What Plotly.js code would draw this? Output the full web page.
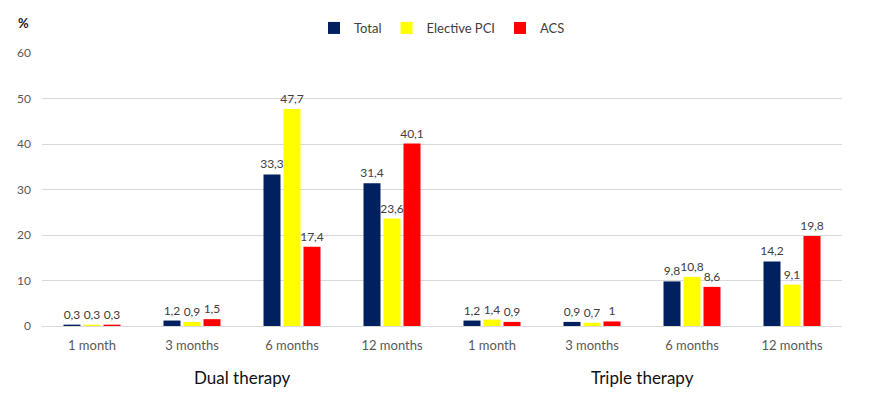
<!DOCTYPE html>
<html>
<head>
<meta charset="utf-8">
<script src="https://cdn.plot.ly/plotly-3.0.1.min.js"></script>
<style>html,body{margin:0;padding:0;background:#fff;}#chart{width:882px;height:396px;}</style>
</head>
<body>
<div id="chart"></div>
<script>
const categories = ["1 month", "3 months", "6 months", "12 months", "1 month", "3 months", "6 months", "12 months"];
const groups = ["Dual therapy", "Triple therapy"];
const seriesNames = ["Total", "Elective PCI", "ACS"];
const total = [0.3, 1.2, 33.3, 31.4, 1.2, 0.9, 9.8, 14.2];
const elective = [0.3, 0.9, 47.7, 23.6, 1.4, 0.7, 10.8, 9.1];
const acs = [0.3, 1.5, 17.4, 40.1, 0.9, 1, 8.6, 19.8];
const colors = ["#002060", "#FFFF00", "#FF0000"];

const xIdx = categories.map((_, i) => i);
const fmt = v => String(v).replace('.', ',');
const traces = [total, elective, acs].map((vals, k) => ({
  type: 'bar',
  name: seriesNames[k],
  x: xIdx,
  y: vals,
  marker: {color: colors[k]},
  text: vals.map(fmt),
  textposition: 'outside',
  constraintext: 'none',
  textfont: {size: 12, color: '#404040', family: 'Lato, sans-serif'},
  cliponaxis: false,
  hoverinfo: 'none'
}));

const layout = {
  width: 882, height: 396,
  margin: {l: 42, r: 40, t: 53, b: 70, autoexpand: false},
  paper_bgcolor: '#fff', plot_bgcolor: '#fff',
  font: {family: 'Lato, sans-serif', color: '#595959'},
  barmode: 'group',
  bargap: 0.4,
  bargroupgap: 0.15,
  showlegend: true,
  legend: {orientation: 'h', x: 0.5, xanchor: 'center', yref: 'container', y: 1 - 28/396, yanchor: 'middle', font: {size: 13, color: '#404040'}, itemwidth: 30, traceorder: 'normal'},
  xaxis: {
    tickvals: xIdx, ticktext: categories, range: [-0.5, 7.5],
    showgrid: false, zeroline: false, showline: false, ticks: '',
    tickfont: {size: 13, color: '#595959'}, ticklabelstandoff: 10, fixedrange: true
  },
  yaxis: {
    range: [0, 60], dtick: 10, showgrid: true, gridcolor: '#d9d9d9', gridwidth: 1,
    zeroline: true, zerolinecolor: '#d9d9d9', zerolinewidth: 1,
    tickfont: {size: 12, color: '#595959'}, ticklen: 0, ticks: '', ticklabelstandoff: 10, fixedrange: true
  },
  annotations: [
    {text: '%', xref: 'paper', yref: 'paper', x: -19/800, y: 303/273, xanchor: 'center', yanchor: 'middle', showarrow: false, font: {size: 13, color: '#222', family: 'Lato, sans-serif', weight: 'bold'}},
    {text: groups[0], xref: 'x', yref: 'paper', x: 1.5, y: -51/273, xanchor: 'center', yanchor: 'middle', showarrow: false, font: {size: 17, color: '#111'}},
    {text: groups[1], xref: 'x', yref: 'paper', x: 5.5, y: -51/273, xanchor: 'center', yanchor: 'middle', showarrow: false, font: {size: 17, color: '#111'}}
  ]
};

Plotly.newPlot('chart', traces, layout, {displayModeBar: false, staticPlot: true});
</script>
</body>
</html>
